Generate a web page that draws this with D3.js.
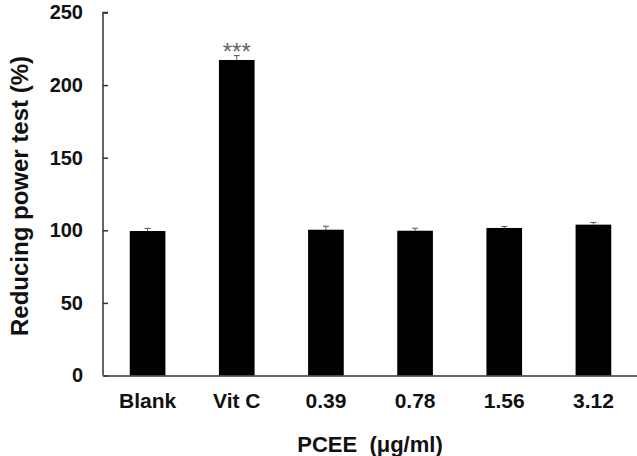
<!DOCTYPE html>
<html><head><meta charset="utf-8">
<script src="https://cdn.jsdelivr.net/npm/d3@7"></script>
<style>body{margin:0;background:#fff}svg{display:block}text{font-family:Arial,"Liberation Sans",sans-serif;font-weight:bold;fill:#111}</style>
</head><body><svg id="c" width="637" height="456"></svg>
<script>
const categories = ["Blank","Vit C","0.39","0.78","1.56","3.12"];
const values = [99.5, 217.3, 100.4, 99.7, 101.6, 103.9];
const errors = [1.8, 3.0, 2.4, 1.7, 1.0, 1.5];
const significance = ["", "***", "", "", "", ""];
const yTicks = [0, 50, 100, 150, 200, 250];
const xTitle = "PCEE  (\u03bcg/ml)";
const yTitle = "Reducing power test (%)";

const svg = d3.select("#c");
const x0 = 103, x1 = 638, yTop = 12.5, yBot = 375.5;
const x = d3.scaleBand().domain(categories).range([x0, x1]).paddingInner(0.6).paddingOuter(0.3);
const y = d3.scaleLinear().domain([0, 250]).range([yBot, yTop]);
const FONT = "Arial, 'Liberation Sans', sans-serif";

// bars
svg.selectAll("rect.bar").data(categories).enter().append("rect")
  .attr("x", d => x(d)).attr("width", x.bandwidth())
  .attr("y", (d,i) => y(values[i])).attr("height", (d,i) => yBot - y(values[i]))
  .attr("fill", "#000");

// error bars
const eb = svg.selectAll("g.err").data(categories).enter().append("g");
eb.append("line")
  .attr("x1", d => x(d) + x.bandwidth()/2).attr("x2", d => x(d) + x.bandwidth()/2)
  .attr("y1", (d,i) => y(values[i])).attr("y2", (d,i) => y(values[i] + errors[i]))
  .attr("stroke", "#555").attr("stroke-width", 1);
eb.append("line")
  .attr("x1", d => x(d) + x.bandwidth()/2 - 3).attr("x2", d => x(d) + x.bandwidth()/2 + 3)
  .attr("y1", (d,i) => y(values[i] + errors[i])).attr("y2", (d,i) => y(values[i] + errors[i]))
  .attr("stroke", "#555").attr("stroke-width", 1);

// significance
svg.selectAll("text.sig").data(categories).enter().append("text")
  .attr("x", d => x(d) + x.bandwidth()/2)
  .attr("y", (d,i) => y(values[i] + errors[i]) + 4)
  .attr("text-anchor", "middle").style("font-size", "24px").style("font-weight", "normal")
  .style("fill", "#666")
  .text((d,i) => significance[i]);

// y axis
const yAxis = d3.axisRight(y).tickValues(yTicks).tickSize(5).tickFormat(d3.format("d"));
const gy = svg.append("g").attr("transform", `translate(${x0},0)`).call(yAxis);
gy.select(".domain").attr("stroke", "#333").attr("stroke-width", 1.5).attr("d", `M5,${yTop}H0V${yBot}`);
gy.selectAll(".tick line").attr("stroke", "#333").attr("stroke-width", 1.5);
gy.selectAll(".tick text").attr("x", -20).attr("text-anchor", "end")
  .style("font-size", "20px").style("font-family", FONT).style("font-weight", "bold").attr("fill", "#111");

// x axis
const xAxis = d3.axisBottom(x).tickSize(0);
const gx = svg.append("g").attr("transform", `translate(0,${yBot})`).call(xAxis);
gx.select(".domain").attr("stroke", "#333").attr("stroke-width", 1.5);
gx.selectAll(".tick text").attr("y", 32.5).attr("dy", 0)
  .style("font-size", "21px").style("font-family", FONT).style("font-weight", "bold").attr("fill", "#111");

// titles
svg.append("text").attr("x", 370).attr("y", 452).attr("text-anchor", "middle")
  .style("font-size", "22px").style("white-space", "pre").text(xTitle);
svg.append("text").attr("transform", "translate(28,196) rotate(-90)").attr("text-anchor", "middle")
  .style("font-size", "24px").text(yTitle);
</script></body></html>
